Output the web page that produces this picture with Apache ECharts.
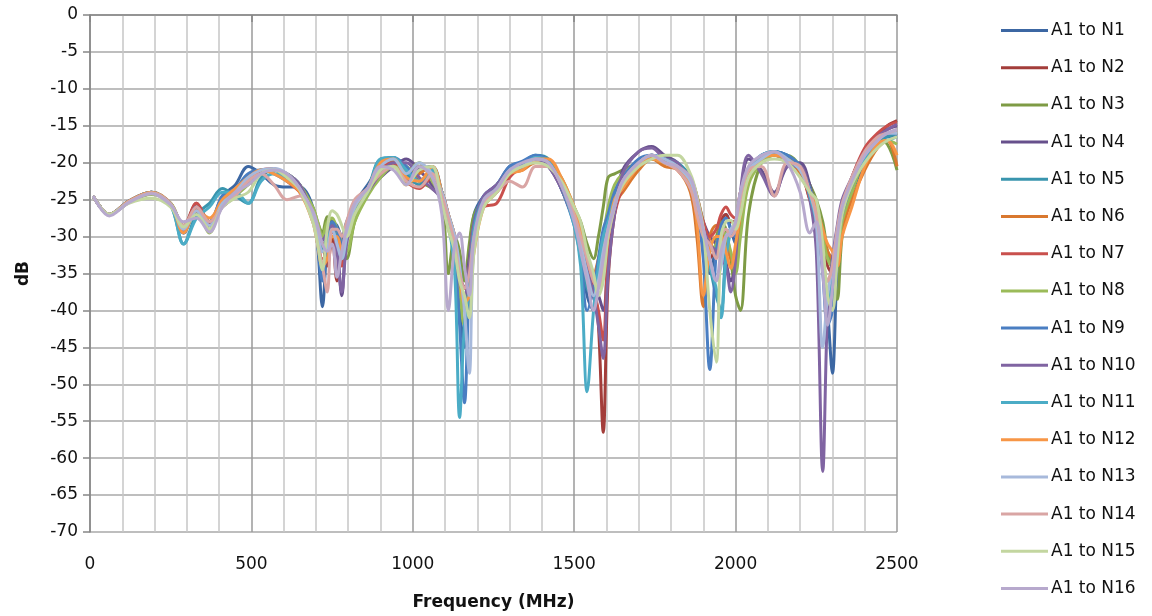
<!DOCTYPE html>
<html>
<head>
<meta charset="utf-8">
<script src="https://cdn.jsdelivr.net/npm/echarts@6/dist/echarts.min.js"></script>
<style>html,body{margin:0;padding:0;background:#fff}#c{width:1152px;height:616px}</style>
</head>
<body>
<div id="c"></div>
<script>
const freqs = [10,60,120,190,250, 290,330,370,410,450, 490,530,570,610,650, 690,705,720,735,750,
  765,780,795,820,860, 900,940,980,1020,1060, 1090,1110,1130,1145,1160, 1175,1190,1220,1260,1300,
  1340,1380,1420,1460,1500, 1520,1540,1560,1575,1590, 1605,1625,1650,1700,1740, 1780,1820,1860,1880,1900,
  1920,1940,1955,1970,1985, 2000,2015,2040,2080,2120, 2160,2200,2230,2250,2270, 2285,2300,2315,2330,2360,
  2400,2440,2470,2500];

const n1 = [-24.5,-27,-25.2,-24,-25.8, -29.5,-26.5,-28,-24.5,-23, -20.5,-21.5,-23,-23.3,-23.3, -26,-31,-39.5,-31,-28,
  -28.5,-30,-28,-25.5,-23, -20.5,-19.5,-22.5,-21,-20.5, -24,-28,-33,-40,-45, -33,-27,-24.5,-23,-20.5,
  -20,-19.2,-19.8,-23,-28, -32,-38,-40,-35,-30, -27,-24,-22,-20,-19, -19.5,-20.5,-23,-26,-30,
  -35,-31,-28,-27,-29, -31,-26,-21.5,-19.5,-18.5, -19,-20.5,-23,-26,-34, -40,-48.5,-34,-28,-24,
  -20,-17,-16.5,-16.5];
const n2 = [-24.5,-27,-25.3,-24.2,-25.6, -28.5,-25.5,-28.2,-25,-24, -22,-21.3,-21,-22,-24, -27,-29.5,-31,-34,-30,
  -36,-31,-28.5,-26,-24, -21,-20,-22,-20.5,-21.5, -24,-27,-30,-35,-38, -35,-29,-25.5,-24,-21.5,
  -20.5,-19.5,-20,-22.5,-27, -30,-33,-36,-42,-56.5, -36,-27,-23,-20,-19, -20,-20.5,-22,-25,-29,
  -33,-31,-28,-27,-28, -28,-24,-21,-19.5,-19, -19.5,-21,-25,-27,-31, -34,-35,-30,-26,-22,
  -18.5,-16.5,-15,-14.3];
const n3 = [-24.5,-27,-25.3,-24.2,-25.5, -28.5,-26.8,-29,-25.5,-24.5, -22.5,-21,-21,-22,-23.5, -26,-28,-29.5,-27.3,-28,
  -29.5,-31,-33,-28,-24, -21,-19.8,-20.5,-22.5,-23.5, -25,-35,-30,-32,-36, -31,-27,-25,-23,-21,
  -20.5,-19.5,-20,-22,-26, -28,-31,-33,-30,-26, -22,-21.5,-21,-20,-19.5, -20,-20.5,-22,-24.5,-28,
  -31,-30,-28,-29,-33, -38,-40,-27,-20,-19, -19,-20.5,-23,-25,-28, -32,-34,-38.5,-30,-24,
  -19,-17,-17.5,-21];
const n4 = [-24.5,-27,-25.4,-24.1,-25.7, -28.8,-26.5,-28,-26,-24.5, -22.5,-21.5,-21,-21.5,-23, -26.5,-28.5,-30.5,-29,-28,
  -31,-38,-30,-26.5,-24, -22,-20.5,-19.5,-21,-23, -25,-28,-31,-35,-37, -33,-28,-24.5,-23,-21,
  -20,-19.5,-20.5,-23.5,-28, -31,-34,-37,-38,-40, -33,-26,-21,-18.5,-17.8, -19,-20,-23,-26,-28,
  -30,-31,-32,-33.5,-36, -34,-25,-19.5,-21,-24, -20.5,-20,-23,-27,-34, -38,-36,-30,-26,-22.5,
  -19,-16.5,-15.5,-15];
const n5 = [-24.5,-27,-25.2,-24,-25.8, -31,-27,-25.5,-23.5,-24.5, -25.5,-22,-21,-21.5,-23, -27,-29.5,-31.5,-30,-28.5,
  -30,-32,-29.5,-26,-23.5, -19.5,-19.3,-21.5,-23,-21, -24,-27,-30,-34,-39, -36,-29,-25,-23.5,-21,
  -20,-19,-19.5,-23.5,-28, -32,-37,-38,-34,-30, -28,-25,-22.5,-20,-19, -19.5,-20,-22,-26,-30,
  -34,-38,-40,-32,-29, -29,-25,-21,-19,-18.5, -19,-20.5,-24,-27,-33, -38,-37,-30,-26,-22.5,
  -19,-17,-16.5,-16];
const n6 = [-24.5,-27,-25.3,-24.1,-25.5, -28.8,-26,-28.5,-25.5,-24, -22.5,-21.5,-21,-22,-23.5, -27,-29,-31,-32,-30,
  -31,-33,-30,-26.5,-24, -21,-20,-23,-21.5,-20.5, -24,-27.5,-31,-35,-37, -34,-28,-25,-23.5,-21.5,
  -21,-20,-20,-22.5,-26, -29,-33,-35,-33,-30, -28,-25.5,-24,-21,-19.5, -20.5,-21,-24,-30,-39.5,
  -30,-28.5,-29,-31,-33, -34,-28,-21.5,-19.5,-19, -19.5,-21.5,-24.5,-27,-30, -32,-33,-34,-29,-25,
  -21,-18,-17,-20.5];
const n7 = [-24.5,-27,-25.3,-24,-25.7, -29,-25.5,-28,-25,-24, -22,-21,-20.8,-22.5,-24, -27,-30,-33,-33,-29,
  -31,-34,-29,-25.5,-23.5, -20.5,-20,-22.5,-23.5,-22, -24,-27,-31,-36,-40, -37,-29,-26,-25.5,-22,
  -20.5,-19.5,-20,-23,-27.5, -31,-34,-37,-40,-44, -32,-27,-23.5,-20.5,-19.5, -20,-20.5,-22,-24.5,-28,
  -30,-29,-27,-26,-27, -27.5,-24,-22,-19.5,-19, -20,-21,-25,-28,-33, -36,-34,-30,-26,-22,
  -18,-16,-15,-14.5];
const n8 = [-24.5,-27,-25.4,-24.3,-25.5, -28.5,-26.5,-29.5,-25.5,-24.5, -23,-21.5,-21,-21.5,-23, -26,-28,-30,-28,-27.5,
  -29,-31,-32,-28,-24.5, -22,-20.5,-21,-20,-22.5, -25,-29,-32,-37,-42, -40,-30,-25.5,-23.5,-21,
  -20.5,-19.5,-20,-22.5,-26.5, -29,-33,-36,-34,-30, -26,-23,-21.5,-20,-19.5, -20,-20.5,-22.5,-25,-29,
  -32,-31,-29,-30,-32, -35,-30,-23,-20,-19, -19.5,-20.5,-23.5,-26,-30, -33,-34,-33,-28,-24,
  -19.5,-17.5,-17,-17.5];
const n9 = [-24.5,-27,-25.2,-24,-25.6, -29.5,-26,-28,-24.5,-23.5, -21.5,-21,-21.5,-22.5,-23.5, -27,-31,-36,-31,-28,
  -29,-31,-28.5,-25.5,-23.5, -20,-19.3,-20.5,-22.5,-21.5, -24,-28,-33,-42,-52.5, -36,-28,-24.5,-23,-20.5,
  -19.8,-19,-19.8,-23.5,-28.5, -33,-40,-37,-33,-29, -27,-24,-22,-19.5,-19, -19.5,-20.5,-23,-26,-33,
  -48,-32,-28.5,-27.5,-29, -30,-25,-21,-19,-18.5, -19,-20.5,-23.5,-27,-35, -42,-40,-32,-27,-23,
  -19.5,-17,-16,-16];
const n10 = [-24.5,-27,-25.4,-24.1,-25.7, -29,-26.5,-28.5,-26,-24.5, -22.5,-21.5,-21,-21.5,-23, -27,-29,-30.5,-29.5,-28.5,
  -32,-37.5,-31,-26.5,-24, -21.5,-20,-20,-22,-23.5, -25,-28.5,-32,-36,-38, -34,-28.5,-24.5,-23,-21,
  -20.5,-19.5,-20.5,-23.5,-28, -31,-34,-38,-42,-46.5, -35,-27,-21.5,-18.5,-18, -19.5,-20,-23,-26,-29,
  -31,-32,-33,-34,-37.5, -33,-24,-19,-21.5,-24.5, -20.5,-20.5,-25,-32,-61.8, -40,-33,-28.5,-25,-22,
  -18.5,-16.5,-15.5,-14.8];
const n11 = [-24.5,-27,-25.3,-24,-25.8, -31,-27.5,-26,-24,-24, -25.5,-22.5,-21.5,-22,-23.5, -27.5,-30,-32,-30.5,-29,
  -30.5,-33,-30,-26.5,-24, -19.5,-19.3,-21,-22.5,-21, -24,-28,-35,-54.5,-42, -37,-29,-25,-23.5,-21,
  -20.5,-19.3,-19.8,-23,-28.5, -34,-51,-40,-34,-30, -28,-25,-23,-20,-19, -19.5,-20.5,-22.5,-26,-30,
  -34,-37,-41,-33,-29.5, -29,-25,-21,-19,-18.5, -19.5,-21,-24.5,-28,-34, -39,-36,-30,-26,-23,
  -19.5,-17.5,-17,-16.5];
const n12 = [-24.5,-27,-25.2,-24,-25.6, -29.5,-26.5,-27.5,-25,-23.5, -22,-21,-21.5,-22.5,-24, -28,-31,-34,-33,-30,
  -30,-32,-29,-26,-23.5, -20,-19.5,-22,-22.5,-20.5, -24,-27,-30,-35,-39, -38,-32,-26,-24,-21.5,
  -21,-19.5,-19.5,-22,-26, -29,-33,-36,-37,-35, -30,-25,-23.5,-20.5,-19.5, -20,-20.5,-23,-28,-38,
  -32,-30,-30,-32,-34.3, -31,-27,-22,-19.5,-19, -19.5,-21,-24,-26,-29, -31,-32,-34,-30,-26,
  -20.5,-17.5,-17,-19];
const n13 = [-24.5,-27,-25.3,-24.1,-25.6, -29,-26.5,-28.5,-25.5,-24, -22,-21,-20.8,-21.5,-23.5, -27,-29.5,-32,-31.5,-29,
  -31,-33,-30,-26,-23.5, -20.5,-19.5,-21.5,-20,-21.5, -24,-27,-30,-34,-40, -48.5,-31,-25.5,-23.5,-21,
  -20.5,-19.5,-20,-23,-27.5, -31,-35,-38,-36,-32, -29,-25.5,-22.5,-20,-19, -19.5,-20.5,-22.5,-25.5,-29,
  -33,-36,-34,-30,-29, -28,-24,-21,-19.5,-18.5, -19.5,-21,-24,-28,-45, -38,-34,-29,-26,-22,
  -19,-17,-16,-16];
const n14 = [-24.5,-27,-25.3,-24.1,-25.6, -28.5,-26,-28,-26,-24.5, -22.5,-21.5,-23,-25,-24.5, -28,-31,-34,-37.5,-29,
  -29,-30,-28,-25,-23.5, -21.5,-20.5,-22.5,-23.3,-21.5, -24.5,-27.5,-31,-35,-37, -35,-30,-25.5,-24,-22.5,
  -23.3,-20.5,-20.5,-23,-27, -30,-33,-36,-37,-34, -30,-26,-22.5,-20,-19, -20,-21,-23.5,-27,-30,
  -31,-33,-30,-29,-30, -29,-25,-21,-20.5,-24.5, -20,-20.5,-24,-27,-33, -36,-34,-29,-25.5,-22,
  -18.5,-16.5,-16,-15.5];
const n15 = [-24.5,-27,-25.5,-24.8,-26, -28.7,-27,-29,-26,-24.8, -24,-21.5,-21,-22,-23.7, -28,-31,-34.5,-29,-26.5,
  -27,-28.5,-30,-27,-24, -21,-20.5,-23,-21,-20.5, -25.5,-29,-32,-36,-38, -41,-32,-26,-24,-21.5,
  -20.5,-20,-20.5,-22.5,-26, -28,-32,-35,-38,-36, -30,-26,-23,-20.5,-19.5, -19,-19,-21.5,-24.5,-29,
  -40,-47,-30,-28,-27.8, -29,-27,-22,-20,-19.5, -20,-22,-24,-25,-31, -38,-40,-33,-27,-23,
  -20,-18,-17,-16.5];
const n16 = [-24.5,-27.2,-25.4,-24.2,-25.7, -28,-27.5,-29.4,-26,-24, -23,-21.5,-21,-21.5,-23.5, -26.5,-28.5,-31,-32,-31,
  -35.5,-32,-29,-25.5,-23.5, -20.5,-21,-23,-20.5,-22, -27,-40,-31,-29.5,-34, -38,-30,-25,-23.5,-21,
  -20,-19.5,-20,-23,-28, -32,-36,-40,-37,-33, -29,-26,-22.5,-20,-19, -20,-20.5,-22,-25,-29,
  -33,-36,-32,-30,-29.5, -28,-24,-20.5,-19,-18.5, -20,-24,-29.5,-28,-35, -42,-37,-30,-26,-22.5,
  -19,-17,-16,-15.5];

const seriesValues = [n1,n2,n3,n4,n5,n6,n7,n8,n9,n10,n11,n12,n13,n14,n15,n16];
const seriesNames = ['A1 to N1','A1 to N2','A1 to N3','A1 to N4','A1 to N5','A1 to N6','A1 to N7','A1 to N8',
  'A1 to N9','A1 to N10','A1 to N11','A1 to N12','A1 to N13','A1 to N14','A1 to N15','A1 to N16'];
const colors = ['#3C67A3','#A33D3A','#7E9B45','#67508C','#3995AE','#D9782F','#C9504D','#9BBB59',
  '#4A7EC2','#8064A2','#4BACC6','#F79646','#A7B9DB','#D9A5A4','#C3D6A0','#B7A9CD'];

const FONT = 'DejaVu Sans';
const chart = echarts.init(document.getElementById('c'), null, {renderer: 'canvas'});
chart.setOption({
  animation: false,
  backgroundColor: '#ffffff',
  color: colors,
  grid: {left: 90, top: 15, width: 807, height: 517},
  legend: {
    orient: 'vertical', left: 996, top: 17,
    itemWidth: 47, itemHeight: 20, itemGap: 20.2,
    icon: 'path://M0,9 L47,9 L47,12 L0,12 Z',
    textStyle: {fontFamily: FONT, fontSize: 17, color: '#111', padding: [0,0,0,-2]},
    data: seriesNames
  },
  xAxis: {
    type: 'value', min: 0, max: 2500, interval: 500,
    name: 'Frequency (MHz)', nameLocation: 'middle', nameGap: 62,
    nameTextStyle: {fontFamily: FONT, fontSize: 17, fontWeight: 'bold', color: '#111'},
    axisLine: {show: true, lineStyle: {color: '#868686', width: 1.5}},
    axisTick: {show: true, length: 7, lineStyle: {color: '#868686', width: 1.5}},
    axisLabel: {fontFamily: FONT, fontSize: 17, color: '#111', margin: 24, formatter: v => String(v)},
    splitLine: {show: true, lineStyle: {color: '#9a9a9a', width: 1.5}},
    minorTick: {show: false, splitNumber: 5},
    minorSplitLine: {show: true, lineStyle: {color: '#c6c6c6', width: 1.5}}
  },
  yAxis: {
    type: 'value', min: -70, max: 0, interval: 5,
    name: 'dB', nameLocation: 'middle', nameGap: 58, nameRotate: 90,
    nameTextStyle: {fontFamily: FONT, fontSize: 17, fontWeight: 'bold', color: '#111'},
    axisLine: {show: true, lineStyle: {color: '#868686', width: 1.5}},
    axisTick: {show: true, length: 7, lineStyle: {color: '#868686', width: 1.5}},
    axisLabel: {fontFamily: FONT, fontSize: 17, color: '#111', margin: 12},
    splitLine: {show: true, lineStyle: {color: '#a8a8a8', width: 1.5}}
  },
  series: seriesValues.map((vals, k) => ({
    name: seriesNames[k],
    type: 'line',
    data: freqs.map((f, i) => [f, vals[i]]),
    smooth: 0.35,
    symbol: 'none',
    lineStyle: {width: 3, color: colors[k]},
    itemStyle: {color: colors[k]}
  }))
});
</script>
</body>
</html>
